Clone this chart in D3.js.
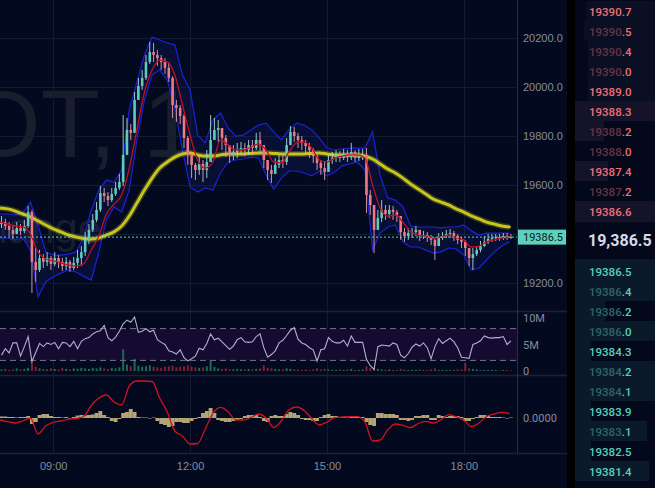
<!DOCTYPE html>
<html>
<head>
<meta charset="utf-8">
<script src="https://cdn.jsdelivr.net/npm/d3@7"></script>
<style>
  html, body { margin: 0; padding: 0; background: #030a1f; overflow: hidden; }
  svg { display: block; font-family: Roboto, "Liberation Sans", sans-serif; }
</style>
</head>
<body>
<svg id="chart" width="655" height="488"></svg>
<script>
// ---- candles, 5 minute bars from 07:52 ----
const candleStart = new Date(2024, 0, 5, 7, 52);
const firstOpen = 19440;
const closes = [19448,19432,19416,19399,19424,19412,19432,19489,
  19285,19252,19301,19285,19301,19277,19301,19285,19268,19285,19260,19281,19301,19325,
  19375,19416,19457,19498,19567,19555,19538,19563,19588,19612,
  19723,19825,19813,19948,20005,20038,20103,20144,20132,20119,20103,20079,20038,
  19927,19915,19882,19792,19723,19682,19661,19686,19661,19694,
  19784,19825,19833,19792,19763,19723,19735,19743,19751,19743,19763,19751,19784,19763,
  19702,19661,19645,19682,19702,19694,19763,19817,19800,19784,19772,19759,19743,19718,19690,19669,19653,
  19702,19710,19723,19710,19727,19714,19735,19710,19723,19723,
  19559,19518,19416,19465,19498,19481,19498,19489,19473,
  19407,19391,19403,19407,19416,19391,19395,19387,19375,19350,19383,19391,19399,19403,19391,19375,19367,
  19342,19301,19317,19334,19350,19367,19379,19383,19387,19383,19391,19387,19386.5];
const highs = [19473,19461,19448,19432,19448,19440,19457,19514,
  19498,19342,19334,19317,19325,19309,19325,19313,19301,19305,19293,19305,19334,19350,
  19407,19440,19481,19530,19596,19588,19571,19588,19612,19645,
  19886,19874,19849,19980,20038,20070,20132,20185,20181,20152,20132,20119,20103,
  20045,19948,19927,19890,19800,19723,19690,19718,19702,19743,
  19886,19874,19866,19833,19804,19751,19763,19772,19776,19772,19784,19784,19813,19817,
  19763,19702,19682,19710,19723,19723,19792,19841,19837,19813,19800,19784,19772,19751,19723,19702,19694,
  19723,19735,19743,19739,19747,19743,19772,19743,19747,19747,
  19751,19579,19518,19498,19538,19518,19518,19514,19498,
  19473,19424,19424,19424,19432,19416,19412,19407,19395,19383,19403,19407,19416,19420,19412,19399,19387,
  19375,19342,19342,19350,19371,19391,19399,19399,19399,19399,19403,19403,19399];
const lows = [19424,19416,19391,19379,19403,19395,19403,19424,
  19158,19203,19244,19260,19268,19252,19268,19260,19248,19252,19244,19252,19260,19268,
  19309,19358,19407,19448,19489,19530,19514,19530,19555,19579,
  19596,19743,19784,19817,19948,19989,20029,20095,20103,20087,20070,20054,20021,
  19874,19858,19849,19751,19682,19628,19620,19641,19612,19628,
  19702,19784,19776,19743,19714,19690,19702,19710,19723,19718,19723,19723,19743,19735,
  19669,19620,19608,19653,19669,19669,19682,19763,19776,19751,19743,19723,19710,19690,19661,19641,19620,
  19661,19686,19694,19694,19702,19694,19702,19694,19698,19702,
  19485,19477,19321,19424,19448,19457,19465,19457,19448,
  19375,19367,19375,19383,19391,19371,19379,19367,19354,19293,19358,19375,19383,19383,19371,19358,19342,
  19309,19268,19252,19309,19325,19346,19358,19367,19371,19371,19375,19375,19379];
// volume (M) and its oscillator line (M)
const volumes = [0.3,0.4,0.2,0.3,0.5,0.3,0.4,0.6,
  1.8,0.8,0.5,0.4,0.3,0.5,0.4,0.3,0.6,0.4,0.3,0.5,0.4,0.6,
  0.5,0.4,0.6,0.5,0.7,0.5,0.4,0.6,0.5,0.7,
  4.1,1.2,0.9,2.3,1.0,0.8,0.9,1.1,0.8,0.7,0.6,0.8,0.9,
  1.0,0.7,0.8,0.9,1.1,0.8,0.7,0.6,0.7,0.9,
  1.9,0.8,0.5,0.4,0.5,0.4,0.3,0.4,0.3,0.3,0.4,0.3,0.4,0.5,
  1.1,0.6,0.5,0.4,0.3,0.3,0.5,0.4,0.3,0.3,0.2,0.3,0.2,0.3,0.5,0.3,0.4,
  0.3,0.2,0.2,0.3,0.2,0.3,0.4,0.2,0.2,0.3,
  0.9,0.6,0.5,0.4,0.3,0.2,0.3,0.2,0.2,
  0.4,0.3,0.2,0.2,0.2,0.3,0.2,0.2,0.3,0.5,0.2,0.2,0.2,0.2,0.2,0.3,0.3,
  1.5,0.5,0.4,0.3,0.2,0.2,0.2,0.2,0.2,0.1,0.2,0.2,0.1];
const volumeLine = [3.0,4.2,3.4,5.3,5.3,2.8,4.6,6.5,
  1.8,3.5,5.2,4.6,5.3,5.0,5.4,4.2,5.4,5.3,4.6,5.6,4.2,5.6,
  6.1,6.3,7.0,7.4,7.6,8.6,6.3,5.7,6.4,7.5,
  8.9,9.6,9.2,10.2,7.3,7.5,8.0,7.4,7.7,5.9,5.4,5.0,3.8,
  3.6,3.2,4.0,2.5,1.9,2.3,2.8,4.3,4.0,5.2,
  7.0,5.9,6.2,5.5,4.8,4.1,4.7,5.9,6.3,5.5,5.4,5.5,6.5,7.0,
  4.4,2.6,3.1,3.8,5.3,5.8,6.7,7.7,8.2,6.0,5.3,5.0,4.4,4.0,1.9,4.0,4.2,
  6.3,5.6,5.3,5.3,5.8,4.7,6.6,5.4,5.4,5.4,
  2.2,1.0,0.3,4.6,4.9,4.8,4.7,5.3,5.0,
  3.0,2.5,3.3,4.5,5.1,4.7,5.3,4.4,2.3,4.6,6.1,5.2,5.7,6.2,5.5,4.4,2.6,
  2.5,2.4,5.0,5.3,5.7,6.6,6.3,6.2,6.3,6.3,6.5,5.0,5.7];
const volBandLevels = [8, 2];
// MACD histogram per candle
const macdHist = [1.5,1.5,1,1,0.5,1,1,2,
  -6,-4,3,4,4,2,1,1,0.5,1,-0.5,1,2.5,3,
  2.5,3,3.5,5,7,3,1,-3,-4,-1,
  5,6,9,6,1,0.5,0.5,-0.5,0.5,-3,-6,-7,-9,
  -8,-4,-4,-5,-5,-3,-1,1,5,7,
  10,5,-2,-3,-4,-4,-3,-2,-1,2,3,3,3,1,
  -3,-4,2,3,2,2,4,6,5,3,-1,-2,-2,-3,-3,1,3,
  4,2,2,0.5,1,0.5,1,1,1,1,
  -4,-7,-8,5,5,4,4,4,3,
  -2,-2,-3,-2,2,2,3,3,-2,-2,3,2,1,2,2,2,1,
  -3,-3,-1,1,3,3,2,1,1,1,0.5,-0.5,0.5];

// ---- indicators, sampled every 10 minutes from 07:50 ----
const indStart = new Date(2024, 0, 5, 7, 50);
const bandUpper = [19481,19481,19477,19485,19530,19436,19326,19313,19313,19317,
  19326,19383,19498,19579,19620,19612,19661,19907,20021,20132,
  20205,20193,20181,20173,20050,19988,19804,19772,19866,19894,
  19833,19800,19804,19825,19845,19853,19817,19784,19825,19853,
  19845,19825,19792,19751,19743,19747,19751,19751,19751,19817,
  19641,19547,19538,19510,19432,19428,19428,19428,19424,19428,
  19428,19436,19412,19395,19403,19403,19403,19403];
const bandLower = [19383,19383,19375,19383,19334,19142,19203,19223,19240,19252,
  19244,19227,19211,19326,19457,19510,19489,19579,19784,19948,
  20050,20070,20029,19915,19743,19592,19571,19588,19579,19649,
  19694,19702,19706,19714,19710,19641,19583,19628,19657,19657,
  19649,19637,19657,19637,19653,19678,19686,19694,19661,19334,
  19403,19428,19436,19367,19346,19346,19334,19321,19326,19342,
  19338,19313,19252,19260,19293,19326,19350,19367];
const maFast = [19448,19440,19432,19428,19399,19326,19297,19289,19281,19272,
  19268,19277,19334,19391,19481,19522,19559,19669,19825,19980,
  20070,20111,20103,20050,19927,19804,19702,19669,19694,19784,
  19764,19743,19743,19755,19768,19743,19694,19690,19735,19772,
  19776,19751,19702,19694,19710,19718,19723,19723,19710,19600,
  19506,19473,19477,19448,19408,19395,19391,19383,19387,19395,
  19383,19375,19346,19350,19367,19375,19383,19387];
const maSlow = [19506,19502,19493,19481,19469,19453,19436,19420,19408,19395,
  19387,19381,19379,19383,19395,19408,19432,19473,19526,19579,
  19628,19669,19694,19714,19727,19731,19723,19718,19718,19723,
  19727,19727,19727,19729,19731,19731,19729,19727,19727,19727,
  19727,19729,19731,19727,19723,19723,19723,19723,19718,19706,
  19686,19665,19649,19628,19604,19583,19563,19542,19530,19518,
  19502,19489,19473,19461,19448,19440,19432,19428];
const macdSignal = [-2,-3.7,-5,-3,0,-16,-8,-4.5,-3,-1.3,
  -0.5,1.5,12.5,20,23,16,13,32,37,37,
  36.5,20,6,-13,-18,-26,-25.5,-11,4.7,10.7,
  6.3,-2,-2,0.5,4,0,-9.5,-3,8,11,
  7.5,-0.5,-7,-4,0.3,1,1.3,1.3,-4,-23,
  -22,-12,-6,-7.3,-9.6,-5.5,-3.3,-5,-1.8,3.4,
  1.3,-2.3,-8.5,-5,1.5,4,5.6,4.5];

// ---- axes ----
const priceTicks = [19200, 19400, 19600, 19800, 20000, 20200];
const lastPrice = 19386.5;
const timeTicks = [9, 12, 15, 18];
const volTicks = [{v: 10, label: "10M"}, {v: 5, label: "5M"}, {v: 0, label: "0"}];

// ---- order book ----
const askPrices = [19390.7,19390.5,19390.4,19390.0,19389.0,19388.3,19388.2,19388.0,19387.4,19387.2,19386.6];
const askDepth = [0.86,0.89,0.84,0.84,0.84,0,0,0,0,0,0];
const askSize = [0,0,0,0,0,1,0.36,0,0.41,0,1];
const bidPrices = [19386.5,19386.4,19386.2,19386.0,19384.3,19384.2,19384.1,19383.9,19383.1,19382.5,19381.4];
const bidSize = [1,1,0.38,1,0.2,1,1,0.2,0.9,0.2,0.93];

const watermark = "DOTUSDT, 1";
const watermarkSub = "Exchange";

// =====================================================
const svg = d3.select("#chart");
const W = 655, H = 488;
const plotRight = 517;
const pane = {main: [0, 311], vol: [312, 375], macd: [376, 453]};

const x = d3.scaleTime()
  .domain([new Date(2024, 0, 5, 7, 50), new Date(2024, 0, 5, 19, 10)])
  .range([0, plotRight]);
const yPrice = d3.scaleLinear().domain([19200, 20200]).range([282.7, 38.3]);
const yVol = d3.scaleLinear().domain([0, 10]).range([371, 318]);
const yMacd = d3.scaleLinear().domain([-35, 42]).range([453, 376]);

const candles = closes.map((c, i) => ({
  t: d3.timeMinute.offset(candleStart, 5 * i),
  o: i === 0 ? firstOpen : closes[i - 1],
  c: c, h: highs[i], l: lows[i], v: volumes[i], vl: volumeLine[i], hist: macdHist[i]
}));
const ind = bandUpper.map((u, k) => ({
  t: d3.timeMinute.offset(indStart, 10 * k),
  up: u, lo: bandLower[k], fast: maFast[k], slow: maSlow[k], sig: macdSignal[k]
}));

svg.append("rect").attr("width", W).attr("height", H).attr("fill", "#030a1f");

const defs = svg.append("defs");
Object.entries(pane).forEach(([k, [t, b]]) => {
  defs.append("clipPath").attr("id", "clip-" + k)
    .append("rect").attr("x", 0).attr("y", t).attr("width", plotRight).attr("height", b - t);
});

// watermark (clipped to the price pane, as in the terminal)
const wm = svg.append("g").attr("clip-path", "url(#clip-main)")
  .attr("fill", "#191e2f").attr("font-family", "'Liberation Sans', Arial, sans-serif");
wm.append("text").attr("x", 197).attr("y", 157).attr("text-anchor", "end")
  .attr("font-size", 97).text(watermark);
wm.append("text").attr("x", 101).attr("y", 243).attr("text-anchor", "end")
  .attr("font-size", 42).text(watermarkSub);

// grid
const grid = svg.append("g").attr("stroke", "#141b2e").attr("stroke-width", 1);
timeTicks.forEach(h => {
  const gx = Math.round(x(new Date(2024, 0, 5, h, 0))) + 0.5;
  grid.append("line").attr("x1", gx).attr("x2", gx).attr("y1", 0).attr("y2", pane.macd[1]);
});
priceTicks.forEach(p => {
  const gy = Math.round(yPrice(p)) + 0.5;
  grid.append("line").attr("x1", 0).attr("x2", plotRight).attr("y1", gy).attr("y2", gy);
});

// pane separators
const sep = svg.append("g").attr("stroke", "#1c2234");
[pane.main[1] + 0.5, pane.vol[1] + 0.5, pane.macd[1] + 0.5].forEach(sy => {
  sep.append("line").attr("x1", 0).attr("x2", plotRight + 50).attr("y1", sy).attr("y2", sy).attr("stroke-width", 1.5);
});
svg.append("line").attr("x1", plotRight + 0.5).attr("x2", plotRight + 0.5).attr("y1", 0).attr("y2", pane.macd[1])
  .attr("stroke", "#282e40");

// ---------- main pane ----------
const main = svg.append("g").attr("clip-path", "url(#clip-main)");

main.append("path").datum(ind)
  .attr("fill", "#1a2590").attr("fill-opacity", 0.2)
  .attr("d", d3.area().x(d => x(d.t)).y0(d => yPrice(d.lo)).y1(d => yPrice(d.up)));

const lineP = key => d3.line().x(d => x(d.t)).y(d => yPrice(d[key]));
["up", "lo"].forEach(k => {
  main.append("path").datum(ind).attr("fill", "none")
    .attr("stroke", "#1c22d6").attr("stroke-width", 1.2).attr("d", lineP(k));
});

// slow MA with soft glow
const slowLine = d3.line().curve(d3.curveMonotoneX).x(d => x(d.t)).y(d => yPrice(d.slow));
main.append("path").datum(ind).attr("fill", "none").attr("stroke", "#c9c31e")
  .attr("stroke-opacity", 0.25).attr("stroke-width", 6).attr("d", slowLine);
main.append("path").datum(ind).attr("fill", "none").attr("stroke", "#c9c31e")
  .attr("stroke-width", 3).attr("stroke-linecap", "round").attr("d", slowLine);

const upCol = "#5fcbb8", downCol = "#ec7a86";
const cg = main.append("g");
cg.selectAll("line").data(candles).join("line")
  .attr("x1", d => x(d.t)).attr("x2", d => x(d.t))
  .attr("y1", d => yPrice(Math.max(d.h, d.o, d.c)))
  .attr("y2", d => yPrice(Math.min(d.l, d.o, d.c)))
  .attr("stroke", d => d.c >= d.o ? "#a9dcd2" : "#e7a3ab").attr("stroke-width", 0.9);
cg.selectAll("rect").data(candles).join("rect")
  .attr("x", d => x(d.t) - 1.3).attr("width", 2.6)
  .attr("y", d => yPrice(Math.max(d.o, d.c)))
  .attr("height", d => Math.max(1, Math.abs(yPrice(d.o) - yPrice(d.c))))
  .attr("fill", d => d.c >= d.o ? upCol : downCol);

main.append("path").datum(ind).attr("fill", "none")
  .attr("stroke", "#c3111d").attr("stroke-width", 1.3)
  .attr("d", d3.line().curve(d3.curveMonotoneX).x(d => x(d.t)).y(d => yPrice(d.fast)));

// last price line
main.append("line").attr("x1", 0).attr("x2", plotRight)
  .attr("y1", yPrice(lastPrice)).attr("y2", yPrice(lastPrice))
  .attr("stroke", "#4fd6c6").attr("stroke-dasharray", "2,2");

// price axis: labels that would sit under the last-price tag are hidden
const tagY = yPrice(lastPrice);
const axisText = sel => sel.selectAll("text").attr("fill", "#868c9b").attr("font-size", 11);
svg.append("g").attr("transform", `translate(${plotRight},0)`)
  .call(d3.axisRight(yPrice).tickValues(priceTicks.filter(p => Math.abs(yPrice(p) - tagY) > 12))
    .tickFormat(d3.format(".1f")).tickSize(0).tickPadding(6))
  .call(g => g.select(".domain").remove())
  .call(axisText);

// last price tag
svg.append("rect").attr("x", plotRight + 1).attr("y", tagY - 7.5).attr("width", 48).attr("height", 15)
  .attr("fill", "#5dd1bb");
svg.append("text").attr("x", plotRight + 6).attr("y", tagY + 4).attr("font-size", 11)
  .attr("fill", "#0b1b20").text(d3.format(".1f")(lastPrice));

// ---------- volume pane ----------
const vol = svg.append("g").attr("clip-path", "url(#clip-vol)");
vol.append("rect").attr("x", 0).attr("width", plotRight)
  .attr("y", yVol(volBandLevels[0])).attr("height", yVol(volBandLevels[1]) - yVol(volBandLevels[0]))
  .attr("fill", "#150b31");
vol.selectAll(".vbar").data(candles).join("rect").attr("class", "vbar")
  .attr("x", d => x(d.t) - 1).attr("width", 2)
  .attr("y", d => yVol(d.v)).attr("height", d => yVol(0) - yVol(d.v))
  .attr("fill", d => d.c >= d.o ? "#1c6a55" : "#7a2335");
volBandLevels.forEach(v => {
  vol.append("line").attr("x1", 0).attr("x2", plotRight).attr("y1", yVol(v)).attr("y2", yVol(v))
    .attr("stroke", "#76728a").attr("stroke-dasharray", "6,4");
});
vol.append("path").datum(candles).attr("fill", "none")
  .attr("stroke", "#b6afd2").attr("stroke-width", 1.1)
  .attr("d", d3.line().x(d => x(d.t)).y(d => yVol(d.vl)));

svg.append("g").selectAll("text").data(volTicks).join("text")
  .attr("x", plotRight + 6).attr("y", d => yVol(d.v) + 4)
  .attr("font-size", 11).attr("fill", "#868c9b").text(d => d.label);

// ---------- MACD pane ----------
const macd = svg.append("g").attr("clip-path", "url(#clip-macd)");
macd.selectAll("rect").data(candles).join("rect")
  .attr("x", d => x(d.t) - 1.95).attr("width", 3.9)
  .attr("y", d => Math.min(yMacd(0), yMacd(d.hist)))
  .attr("height", d => Math.abs(yMacd(d.hist) - yMacd(0)))
  .attr("fill", "#b4a577");
macd.append("path").datum(ind).attr("fill", "none")
  .attr("stroke", "#d3121d").attr("stroke-width", 1.3)
  .attr("d", d3.line().curve(d3.curveMonotoneX).x(d => x(d.t)).y(d => yMacd(d.sig)));
svg.append("text").attr("x", plotRight + 6).attr("y", yMacd(0) + 4)
  .attr("font-size", 11).attr("fill", "#868c9b").text("0.0000");

// time axis
svg.append("g").attr("transform", "translate(0,458)")
  .call(d3.axisBottom(x).tickValues(timeTicks.map(h => new Date(2024, 0, 5, h, 0)))
    .tickFormat(d3.timeFormat("%H:%M")).tickSize(0).tickPadding(4))
  .call(g => g.select(".domain").remove())
  .call(axisText);

// ---------- order book ----------
svg.append("rect").attr("x", 567).attr("y", 0).attr("width", 8).attr("height", H).attr("fill", "#000");
const bookX = 575, bookW = W - bookX;
const ob = svg.append("g");
ob.append("rect").attr("x", bookX).attr("y", 0).attr("width", bookW).attr("height", H).attr("fill", "#03081a");
const rowH = 20;
const askTop = 1, bidTop = 261;

askPrices.forEach((p, i) => {
  const ry = askTop + i * rowH;
  if (askDepth[i] > 0) ob.append("rect").attr("x", W - bookW * askDepth[i]).attr("y", ry)
    .attr("width", bookW * askDepth[i]).attr("height", rowH).attr("fill", "#0b0f24");
  if (askSize[i] > 0) ob.append("rect").attr("x", bookX).attr("y", ry)
    .attr("width", bookW * askSize[i]).attr("height", rowH).attr("fill", "#15132a");
});
ob.append("rect").attr("x", bookX).attr("y", bidTop - 2).attr("width", bookW)
  .attr("height", 2).attr("fill", "#0b1a2b");
bidPrices.forEach((p, i) => {
  const ry = bidTop + i * rowH;
  ob.append("rect").attr("x", bookX).attr("y", ry).attr("width", bookW * bidSize[i])
    .attr("height", rowH).attr("fill", "#0b1a2b");
});
ob.append("line").attr("x1", bookX).attr("x2", W).attr("y1", 221.5).attr("y2", 221.5).attr("stroke", "#161b2b");

function bookRows(prices, top, bright, dim) {
  prices.forEach((p, i) => {
    const s = p.toFixed(1);
    const [intPart, dec] = s.split(".");
    const prevInt = i > 0 ? Math.floor(prices[i - 1]) : null;
    const dimmed = prevInt === Math.floor(p);
    const t = ob.append("text").attr("x", 589).attr("y", top + i * rowH + 14.5)
      .attr("font-size", 11.5).attr("font-weight", 500);
    t.append("tspan").attr("fill", dimmed ? dim : bright).text(intPart);
    t.append("tspan").attr("fill", bright).text("." + dec);
  });
}
bookRows(askPrices, askTop, "#f06f73", "#683345");
bookRows(bidPrices, bidTop, "#55d2bc", "#2a6864");

ob.append("text").attr("x", 588).attr("y", 246).attr("font-size", 16).attr("font-weight", 700)
  .attr("fill", "#d6dae3").text(d3.format(",.1f")(lastPrice));
</script>
</body>
</html>
